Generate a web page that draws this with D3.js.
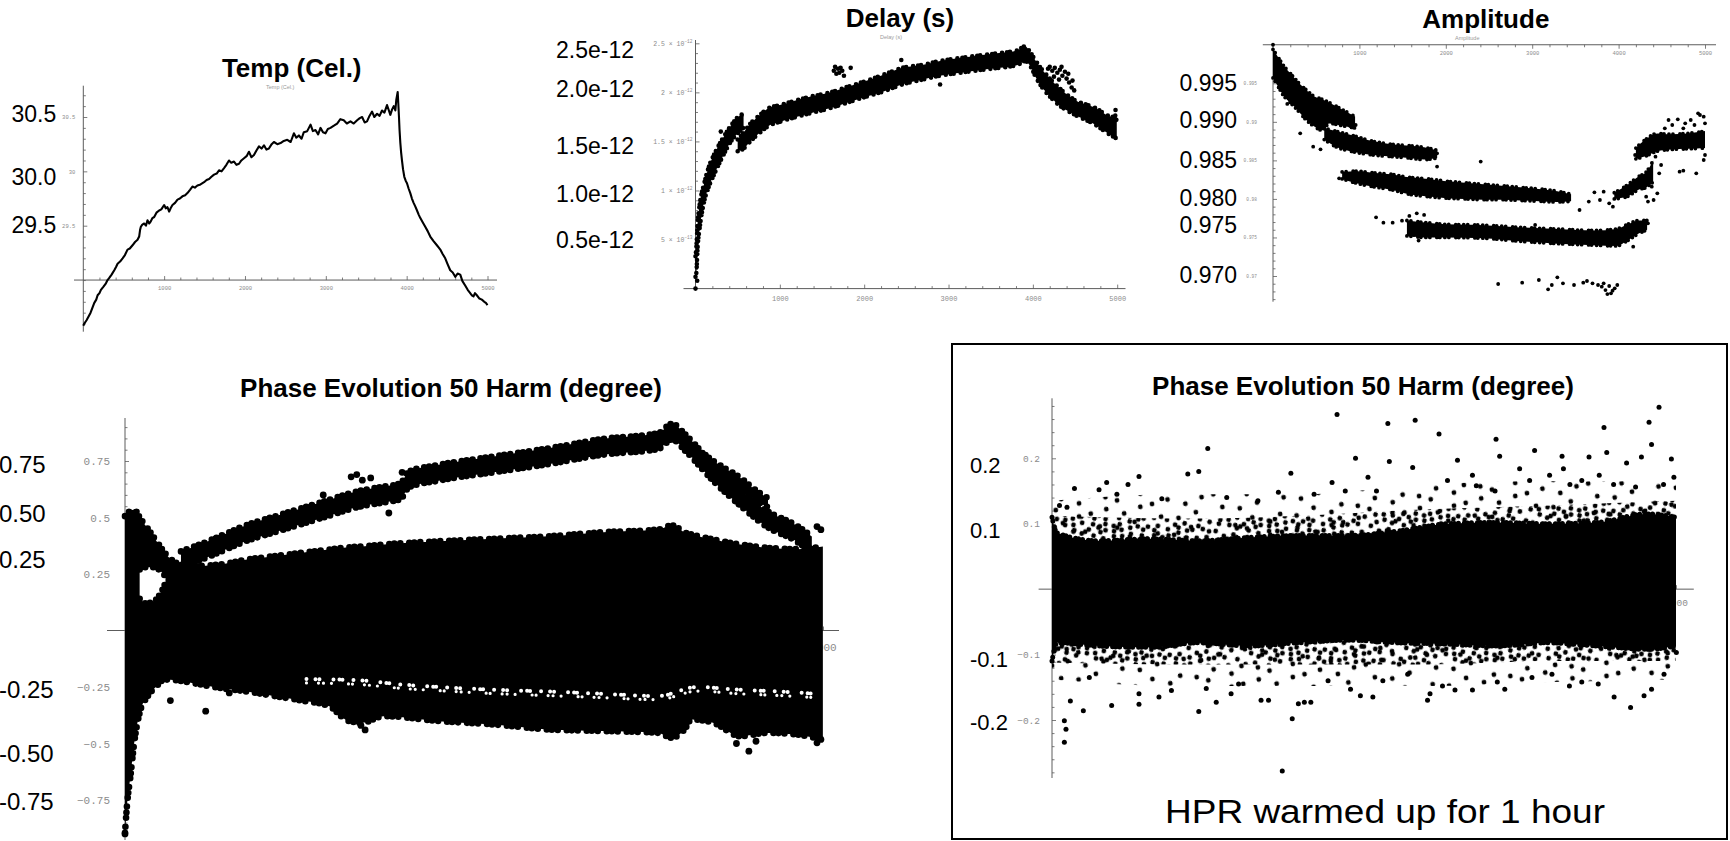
<!DOCTYPE html>
<html>
<head>
<meta charset="utf-8">
<script src="https://cdn.jsdelivr.net/npm/d3@7/dist/d3.min.js"></script>
<style>
html,body{margin:0;padding:0;background:#fff;}
svg{display:block;}
</style>
</head>
<body>
<svg id="chart" width="1730" height="841"></svg>
<script>
// ======================= DATA =======================
// common x ticks (sample index)
const xMajorTicks = [1000, 2000, 3000, 4000, 5000];

// --- Temp (Cel.) : [sample, °C]
const tempSeries = [[0,28.58],[12,28.60],[40,28.63],[62,28.66],[90,28.70],[110,28.74],[136,28.79],[160,28.82],[177,28.86],[200,28.88],[218,28.91],[250,28.94],[280,28.97],[300,29.00],[321,29.02],[350,29.05],[383,29.09],[405,29.12],[424,29.15],[455,29.17],[486,29.20],[515,29.23],[547,29.28],[575,29.29],[609,29.32],[640,29.35],[671,29.37],[691,29.40],[702,29.46],[712,29.49],[730,29.51],[753,29.52],[775,29.50],[794,29.55],[815,29.52],[835,29.54],[855,29.57],[877,29.58],[905,29.62],[938,29.64],[965,29.65],[1000,29.69],[1020,29.66],[1041,29.67],[1062,29.63],[1080,29.66],[1103,29.69],[1135,29.71],[1165,29.74],[1195,29.75],[1226,29.77],[1260,29.78],[1288,29.80],[1320,29.83],[1350,29.86],[1380,29.85],[1412,29.87],[1450,29.88],[1494,29.90],[1525,29.92],[1556,29.93],[1585,29.95],[1617,29.97],[1650,29.98],[1679,30.01],[1710,30.00],[1741,30.03],[1770,30.06],[1802,30.10],[1830,30.08],[1864,30.09],[1895,30.06],[1926,30.07],[1955,30.10],[1988,30.12],[2020,30.14],[2049,30.18],[2080,30.13],[2111,30.15],[2140,30.19],[2173,30.23],[2205,30.21],[2235,30.24],[2265,30.20],[2296,30.21],[2330,30.25],[2358,30.27],[2400,30.25],[2440,30.26],[2480,30.28],[2523,30.29],[2565,30.27],[2605,30.35],[2635,30.31],[2667,30.33],[2700,30.30],[2728,30.36],[2770,30.37],[2811,30.43],[2840,30.37],[2872,30.38],[2905,30.34],[2934,30.40],[2965,30.36],[2996,30.35],[3025,30.39],[3058,30.40],[3100,30.42],[3140,30.44],[3180,30.48],[3222,30.47],[3260,30.44],[3305,30.46],[3345,30.44],[3387,30.47],[3420,30.49],[3449,30.50],[3480,30.45],[3510,30.46],[3540,30.51],[3572,30.55],[3600,30.50],[3634,30.53],[3665,30.51],[3695,30.56],[3725,30.54],[3757,30.61],[3780,30.56],[3798,30.52],[3820,30.57],[3840,30.60],[3860,30.56],[3872,30.66],[3889,30.73],[3897,30.62],[3905,30.50],[3912,30.38],[3922,30.26],[3932,30.17],[3942,30.10],[3955,30.02],[3971,29.95],[3990,29.91],[4004,29.89],[4025,29.84],[4045,29.80],[4065,29.75],[4086,29.71],[4105,29.68],[4128,29.64],[4150,29.60],[4169,29.57],[4200,29.53],[4230,29.49],[4260,29.45],[4292,29.40],[4330,29.36],[4374,29.32],[4395,29.30],[4416,29.28],[4445,29.24],[4477,29.20],[4510,29.14],[4539,29.09],[4570,29.07],[4601,29.03],[4630,29.06],[4663,29.05],[4690,28.99],[4724,28.95],[4755,28.91],[4786,28.88],[4805,28.86],[4827,28.85],[4845,28.88],[4868,28.86],[4900,28.83],[4930,28.82],[4960,28.80],[4980,28.79],[5000,28.77]];

// --- Delay (s), values in ps (1e-12 s): bands [sample, low, high], points [sample, value]
const delayBandEarly = [[0,0.12,0.33],[10,0.16,0.42],[25,0.42,0.66],[50,0.62,0.86],[100,0.88,1.06],[150,1.02,1.22],[240,1.20,1.40],[330,1.36,1.54],[420,1.50,1.66],[520,1.60,1.76],[570,1.64,1.78]];
const delayBandMain = [[500,1.40,1.52],[560,1.42,1.58],[650,1.50,1.68],[750,1.58,1.76],[870,1.66,1.84],[1000,1.70,1.87],[1330,1.78,1.95],[1600,1.84,2.00],[1780,1.89,2.05],[2000,1.95,2.11],[2230,2.01,2.18],[2450,2.08,2.25],[2690,2.13,2.28],[2900,2.17,2.32],[3140,2.20,2.35],[3400,2.23,2.38],[3600,2.25,2.40],[3820,2.28,2.43],[3910,2.32,2.47],[3960,2.28,2.42],[4050,2.13,2.30],[4270,1.90,2.08],[4500,1.77,1.92],[4720,1.68,1.85],[4950,1.55,1.75],[4995,1.53,1.78]];
const delayPoints = [[0,0.0],[20,0.08],[1640,2.22],[1655,2.26],[1670,2.19],[1690,2.24],[1705,2.20],[1720,2.25],[1740,2.22],[1760,2.17],[1840,2.25],[2440,2.33],[2900,2.08],[4180,2.24],[4200,2.26],[4230,2.22],[4260,2.25],[4290,2.20],[4320,2.23],[4350,2.17],[4380,2.21],[4400,2.14],[4430,2.10],[4460,2.05],[4490,2.02],[4310,2.13],[4250,2.16],[4340,2.26],[4420,2.19],[4470,2.12],[4980,1.82],[4990,1.72],[300,1.60],[560,1.45]];

// --- Amplitude: bands [sample, low, high], points [sample, value]
const ampBandTop = [[0,0.9957,0.9994],[58,0.9946,0.9984],[122,0.9934,0.9973],[208,0.9924,0.9962],[293,0.9914,0.9951],[379,0.9903,0.9942],[465,0.9895,0.9934],[572,0.9889,0.9929],[650,0.9898,0.9925],[800,0.9895,0.9916],[950,0.9892,0.9907]];
const ampBandUpper = [[593,0.9877,0.9892],[722,0.9868,0.9888],[936,0.9861,0.9882],[1150,0.9857,0.9875],[1364,0.9855,0.9871],[1578,0.9853,0.9869],[1749,0.9851,0.9867],[1900,0.9853,0.9863]];
const ampBandMid = [[800,0.9826,0.9835],[979,0.9820,0.9836],[1150,0.9816,0.9834],[1364,0.9812,0.9832],[1578,0.9806,0.9828],[1792,0.9803,0.9826],[2007,0.9801,0.9823],[2221,0.9800,0.9821],[2435,0.9799,0.9819],[2649,0.9799,0.9817],[2863,0.9798,0.9815],[3077,0.9797,0.9813],[3291,0.9796,0.9810],[3450,0.9797,0.9806]];
const ampBandRise = [[3950,0.9800,0.9808],[4100,0.9803,0.9818],[4230,0.9812,0.9829],[4320,0.9815,0.9835],[4400,0.9822,0.9850]];
const ampBandEnd = [[4200,0.9852,0.9866],[4300,0.9855,0.9876],[4450,0.9862,0.9885],[4600,0.9864,0.9884],[4800,0.9865,0.9885],[5000,0.9866,0.9888]];
const ampBandLow = [[1550,0.9752,0.9772],[1792,0.9750,0.9769],[2007,0.9750,0.9767],[2435,0.9749,0.9766],[2863,0.9745,0.9763],[3291,0.9742,0.9761],[3720,0.9740,0.9759],[3976,0.9739,0.9761],[4105,0.9746,0.9767],[4233,0.9755,0.9772],[4330,0.9760,0.9772]];
const ampPoints = [[0,1.0],[1193,0.97761],[1278,0.97692],[1385,0.97692],[1493,0.97718],[1578,0.97779],[1664,0.97813],[1749,0.97792],[1630,0.97532],[1685,0.97459],[1899,0.97597],[2691,0.97597],[3034,0.97662],[765,0.98267],[1899,0.98592],[1899,0.98419],[1860,0.98570],[2404,0.98484],[315,0.98851],[465,0.98678],[550,0.98644],[165,0.99232],[893,0.98946],[957,0.98959],[3548,0.97856],[3655,0.97965],[3720,0.98086],[3784,0.97986],[3891,0.97943],[3934,0.97900],[3827,0.98094],[4169,0.97381],[4340,0.97683],[4578,0.99024],[4621,0.98959],[4685,0.99033],[4771,0.98981],[4835,0.99024],[4878,0.98959],[4942,0.99089],[4985,0.99067],[5000,0.98981],[4920,0.99111],[4749,0.98916],[4535,0.98916],[4706,0.98354],[4749,0.98367],[4899,0.98332],[4985,0.98505],[5000,0.98570],[4319,0.98029],[4340,0.97965],[4405,0.97986],[4448,0.98073],[4384,0.98159],[4470,0.98332],[4492,0.98440],[4427,0.98548],[4298,0.98613],[4234,0.98548],[4191,0.98570],[2606,0.96896],[2884,0.96913],[3077,0.96948],[3184,0.96827],[3227,0.96883],[3291,0.96983],[3356,0.96905],[3484,0.96883],[3591,0.96913],[3634,0.96935],[3698,0.96905],[3762,0.96883],[3805,0.96862],[3848,0.96818],[3891,0.96870],[3912,0.96775],[3955,0.96840],[3985,0.96883],[3870,0.96766],[3827,0.96905],[3930,0.96810]];

// --- Phase Evolution 50 Harm (degree), warm-up run
const phaseCore = [[0,-0.895,0.506],[16,-0.762,0.52],[39,-0.645,0.528],[66,-0.497,0.535],[105,-0.364,0.50],[164,-0.29,0.45],[220,-0.25,0.40],[284,-0.217,0.344],[365,-0.22,0.30],[480,-0.232,0.285],[676,-0.254,0.292],[873,-0.27,0.314],[1069,-0.29,0.329],[1266,-0.31,0.344],[1462,-0.335,0.358],[1600,-0.40,0.368],[1698,-0.408,0.372],[1856,-0.379,0.381],[2248,-0.401,0.395],[2641,-0.416,0.406],[3034,-0.438,0.417],[3427,-0.445,0.435],[3820,-0.453,0.447],[3918,-0.475,0.465],[4017,-0.43,0.432],[4056,-0.394,0.425],[4212,-0.408,0.403],[4409,-0.468,0.381],[4606,-0.453,0.366],[4803,-0.46,0.36],[4999,-0.482,0.372]];
const phaseHole = [[105,0.14,0.27],[150,0.12,0.28],[210,0.13,0.28],[260,0.17,0.26],[290,0.21,0.24]];
const phaseGap = [[1300,-0.215,-0.232],[1659,-0.22,-0.238],[2000,-0.24,-0.257],[2248,-0.25,-0.266],[2641,-0.262,-0.279],[3034,-0.27,-0.288],[3420,-0.28,-0.297],[3820,-0.29,-0.306],[4100,-0.25,-0.268],[4400,-0.262,-0.28],[4700,-0.27,-0.288],[4950,-0.28,-0.297]];
const phaseArc = [[401,0.28,0.35],[559,0.316,0.386],[676,0.346,0.416],[873,0.397,0.467],[1069,0.434,0.504],[1266,0.471,0.541],[1462,0.508,0.578],[1659,0.545,0.615],[1856,0.567,0.637],[1973,0.581,0.651],[2032,0.633,0.703],[2248,0.663,0.733],[2641,0.700,0.770],[3034,0.736,0.806],[3427,0.778,0.848],[3820,0.803,0.873],[3918,0.845,0.915],[4017,0.793,0.865],[4212,0.663,0.733],[4409,0.552,0.622],[4606,0.456,0.526],[4803,0.397,0.467],[4920,0.346,0.416]];
const phaseArc2 = [[4100,0.755,0.80],[4252,0.69,0.735],[4409,0.63,0.675],[4520,0.575,0.62],[4606,0.545,0.585]];
const phasePoints = [[0,-0.90],[578,-0.357],[747,-0.276],[325,-0.31],[4469,-0.534],[4957,-0.497],[4985,-0.482],[4930,-0.47],[4985,0.446],[4957,0.46],[4158,0.776],[1620,0.68],[1660,0.69],[1700,0.665],[1760,0.675],[1985,0.70],[1890,0.52],[1420,0.60],[4380,-0.50],[4520,-0.49],[1690,-0.42],[1720,-0.44]];

// --- Phase Evolution 50 Harm (degree), HPR warmed up for 1 hour
const hprCore = [[0,-0.11,0.11],[40,-0.082,0.086],[379,-0.087,0.074],[778,-0.089,0.077],[1176,-0.082,0.074],[1574,-0.087,0.079],[1974,-0.082,0.082],[2372,-0.078,0.082],[2771,-0.082,0.089],[3169,-0.084,0.10],[3568,-0.087,0.102],[3966,-0.082,0.10],[4365,-0.087,0.102],[4764,-0.092,0.115],[5000,-0.087,0.11]];
const hprHaloInner = [[0,-0.112,0.112],[1000,-0.115,0.108],[2000,-0.115,0.112],[3000,-0.115,0.122],[4000,-0.11,0.128],[5000,-0.11,0.135]];
const hprHaloOuter = [[0,-0.138,0.135],[1000,-0.148,0.145],[2000,-0.148,0.145],[3000,-0.148,0.16],[4000,-0.142,0.165],[5000,-0.138,0.165]];
const hprPoints = [[2284,0.267],[2691,0.253],[2910,0.258],[4864,0.278],[4784,0.255],[4423,0.247],[3101,0.237],[3558,0.229],[4804,0.221],[1248,0.215],[2432,0.200],[3249,0.197],[3587,0.203],[4087,0.203],[4303,0.202],[4723,0.202],[4963,0.199],[2703,0.195],[4604,0.193],[4098,0.184],[2890,0.186],[3867,0.212],[4445,0.209],[1176,0.180],[1088,0.176],[1914,0.177],[697,0.172],[2244,0.163],[2532,0.171],[3369,0.174],[3747,0.184],[3987,0.174],[4385,0.174],[4983,0.171],[438,0.163],[609,0.160],[377,0.152],[180,0.154],[1814,0.148],[3169,0.166],[3827,0.166],[4245,0.166],[4676,0.156],[60,0.128],[120,0.125],[520,0.145],[880,0.138],[1400,0.14],[1650,0.135],[2100,0.145],[2350,0.15],[2600,0.15],[3400,0.158],[3550,0.15],[4150,0.16],[4500,0.16],[4900,0.16],
[1845,-0.278],[99,-0.234],[112,-0.214],[99,-0.201],[4636,-0.181],[1176,-0.187],[1925,-0.198],[147,-0.171],[251,-0.186],[697,-0.176],[478,-0.178],[1236,-0.152],[1316,-0.173],[1435,-0.160],[1675,-0.170],[1735,-0.170],[1974,-0.175],[2022,-0.173],[2074,-0.173],[2392,-0.153],[2471,-0.163],[2571,-0.165],[3009,-0.170],[3029,-0.160],[3129,-0.148],[3229,-0.154],[3369,-0.154],[3568,-0.142],[3628,-0.153],[4146,-0.148],[4245,-0.142],[4377,-0.145],[4504,-0.165],[4744,-0.163],[4804,-0.153],[4904,-0.130],[5003,-0.097],[299,-0.135],[697,-0.160],[857,-0.165],[957,-0.155],[1495,-0.145],[2212,-0.140],[2651,-0.140],[2850,-0.130],[3846,-0.135],[4006,-0.130]];

// --- texts
const titles = ["Temp (Cel.)", "Delay (s)", "Amplitude", "Phase Evolution 50 Harm (degree)", "Phase Evolution 50 Harm (degree)"];
const tempBigLabels = ["30.5", "30.0", "29.5"];
const delayBigLabels = ["2.5e-12", "2.0e-12", "1.5e-12", "1.0e-12", "0.5e-12"];
const ampBigLabels = ["0.995", "0.990", "0.985", "0.980", "0.975", "0.970"];
const phaseBigLabels = ["0.75", "0.50", "0.25", "-0.25", "-0.50", "-0.75"];
const hprBigLabels = ["0.2", "0.1", "-0.1", "-0.2"];
const noteText = "HPR warmed up for 1 hour";

// tick values
const tempYTicks = [29.5, 30, 30.5];
const delayYTicks = [0.5, 1, 1.5, 2, 2.5];
const ampYTicks = [0.97, 0.975, 0.98, 0.985, 0.99, 0.995];
const phaseYTicks = [-0.75, -0.5, -0.25, 0.25, 0.5, 0.75];
const hprYTicks = [-0.2, -0.1, 0.1, 0.2];

// ======================= LAYOUT =======================
const SANS = '"Liberation Sans", Arial, Helvetica, sans-serif';
const MONO = '"Liberation Mono", "Courier New", monospace';
const svg = d3.select('#chart');

function numFmt(d) { return String(+(+d).toFixed(4)).replace('-', '\u2212'); }
function minorRange(a, b, step, majors) {
  const out = [];
  const n = Math.round((b - a) / step);
  for (let i = 0; i <= n; i++) {
    const v = +(a + i * step).toFixed(5);
    if (!majors.some(m => Math.abs(m - v) < step / 4)) out.push(v);
  }
  return out;
}
const xMinorTicks = minorRange(0, 5000, 200, [0].concat(xMajorTicks));

function mAxes(g, x, y, o) {
  const col = '#5c5c5c';
  const ax = g.append('g');
  const yPix = y(o.xAt), xPix = x(o.yAt);
  ax.append('line').attr('x1', o.xLine[0]).attr('x2', o.xLine[1]).attr('y1', yPix).attr('y2', yPix).attr('stroke', col).attr('stroke-width', 1);
  ax.append('line').attr('x1', xPix).attr('x2', xPix).attr('y1', o.yLine[0]).attr('y2', o.yLine[1]).attr('stroke', col).attr('stroke-width', 1);
  const dir = o.xDown ? 1 : -1;
  const gx = ax.append('g').attr('transform', `translate(0,${yPix})`).attr('color', col)
    .call(d3.axisBottom(x).tickValues(xMajorTicks).tickSize(dir * 4).tickPadding(o.xPad).tickFormat(d3.format('d')));
  ax.append('g').attr('transform', `translate(0,${yPix})`).attr('color', col)
    .call(d3.axisBottom(x).tickValues(xMinorTicks).tickSize(dir * 2.5).tickFormat(() => ''));
  const gy = ax.append('g').attr('transform', `translate(${xPix},0)`).attr('color', col)
    .call(d3.axisLeft(y).tickValues(o.yMaj).tickSize(-4).tickPadding(o.yPad).tickFormat(numFmt));
  ax.append('g').attr('transform', `translate(${xPix},0)`).attr('color', col)
    .call(d3.axisLeft(y).tickValues(o.yMin).tickSize(-2.5).tickFormat(() => ''));
  ax.selectAll('.domain').remove();
  ax.selectAll('.tick line').attr('stroke-width', 0.8);
  gx.selectAll('text').attr('font-family', MONO).attr('font-size', o.xFont).attr('fill', '#8c8c8c');
  gy.selectAll('text').attr('font-family', MONO).attr('font-size', o.yFont).attr('fill', '#8c8c8c');
  return { gx, gy };
}

function edgeBeads(g, x, y, data, k, r, dash, color) {
  const line = d3.line().x(d => x(d[0])).y(d => y(d[k])).curve(d3.curveMonotoneX);
  g.append('path').datum(data).attr('d', line).attr('fill', 'none').attr('stroke', color || '#000')
    .attr('stroke-width', r * 2).attr('stroke-linecap', 'round').attr('stroke-dasharray', dash);
}
function band(g, x, y, data, r, dash, fill) {
  const area = d3.area().x(d => x(d[0])).y0(d => y(d[1])).y1(d => y(d[2])).curve(d3.curveMonotoneX);
  g.append('path').datum(data).attr('d', area).attr('fill', fill || '#000');
  if (r) { edgeBeads(g, x, y, data, 1, r, dash); edgeBeads(g, x, y, data, 2, r, dash); }
}
function dots(g, x, y, data, r) {
  g.append('g').selectAll('circle').data(data).join('circle')
    .attr('cx', d => x(d[0])).attr('cy', d => y(d[1])).attr('r', r).attr('fill', '#000');
}
function bigLabels(g, labels, xPos, baselines, size) {
  g.append('g').selectAll('text').data(labels).join('text')
    .attr('x', xPos).attr('y', (d, i) => baselines[i]).text(d => d)
    .attr('font-family', SANS).attr('font-size', size).attr('fill', '#000');
}
function title(g, text, cx, base, tiny) {
  if (tiny) {
    g.append('text').attr('x', tiny[0]).attr('y', tiny[1]).text(text)
      .attr('font-family', SANS).attr('font-size', 5.5).attr('fill', '#9a9a9a');
  }
  g.append('text').attr('x', cx).attr('y', base).attr('text-anchor', 'middle').text(text)
    .attr('font-family', SANS).attr('font-weight', 'bold').attr('font-size', 26).attr('fill', '#000');
}

// dot textures for the scattered halo of the last panel
const defs = svg.append('defs');
function texture(id, w, h, r, pts, rot) {
  const p = defs.append('pattern').attr('id', id).attr('patternUnits', 'userSpaceOnUse')
    .attr('width', w).attr('height', h).attr('patternTransform', `rotate(${rot})`);
  pts.forEach(c => p.append('circle').attr('cx', c[0]).attr('cy', c[1]).attr('r', r).attr('fill', '#000'));
}
texture('haloDense', 50, 40, 2.4, [[4,4],[13,7],[22,3.5],[31,8],[41,5],[46.5,12],[7,13],[18,14],[27,17],[37,15],[45,22],[3.5,22],[12,24],[22,26],[33,25],[42,31],[6,32],[16,35],[27,34],[36,36],[9,19],[30,31],[20,20],[17,9],[36,3],[26,10],[44,17],[5,27],[39,27],[14,30],[24,36.5],[33,19],[46.5,28],[46,36.5]], 13);
texture('haloSparse', 62, 48, 2.4, [[5,6],[21,4],[38,11],[55,7],[12,20],[29,24],[47,21],[6,36],[22,40],[40,35],[57,42],[33,45]], -9);

// ---------------- Panel 1 : Temp ----------------
{
  const g = svg.append('g');
  const x = d3.scaleLinear().domain([0, 5000]).range([83.3, 487.5]);
  const y = d3.scaleLinear().domain([29.5, 30.5]).range([225.7, 117]);
  mAxes(g, x, y, { xAt: 29.0, yAt: 0, xLine: [74, 497], yLine: [85.7, 331.7],
    yMaj: tempYTicks, yMin: minorRange(28.6, 30.7, 0.1, tempYTicks), xPad: 6.5, yPad: 8, xFont: 5.5, yFont: 5.5 });
  g.append('path').datum(tempSeries)
    .attr('d', d3.line().x(d => x(d[0])).y(d => y(d[1])))
    .attr('fill', 'none').attr('stroke', '#000').attr('stroke-width', 2.1).attr('stroke-linejoin', 'round');
  bigLabels(g, tempBigLabels, 11.5, [122.3, 185, 233.3], 23);
  title(g, titles[0], 291.7, 76.8, [266, 88.5]);
}

// ---------------- Panel 2 : Delay ----------------
{
  const g = svg.append('g');
  const x = d3.scaleLinear().domain([0, 5000]).range([695.5, 1117.2]);
  const y = d3.scaleLinear().domain([0, 2.5]).range([288.6, 43.3]);
  const { gy } = mAxes(g, x, y, { xAt: 0, yAt: 0, xLine: [683.5, 1125.5], yLine: [40, 289],
    yMaj: delayYTicks, yMin: minorRange(0.1, 2.5, 0.1, delayYTicks), xPad: 7, yPad: 3, xFont: 7, yFont: 6.5 });
  gy.selectAll('.tick text').each(function (d) {
    const t = d3.select(this);
    t.text(null);
    const m = d < 1 ? +(d * 10).toFixed(2) : d;
    const e = d < 1 ? 13 : 12;
    t.append('tspan').text(`${m} \u00d7 10`);
    t.append('tspan').attr('dy', -3).attr('font-size', 4.5).text(`\u2212${e}`);
  });
  const dg = g.append('g');
  band(dg, x, y, delayBandEarly, 2.3, '0 4 0 6 0 3');
  band(dg, x, y, delayBandMain, 2.3, '0 5 0 3 0 7');
  dots(dg, x, y, delayPoints, 2.3);
  bigLabels(g, delayBigLabels, 556, [58.3, 97.3, 154, 201.7, 248.3], 23);
  title(g, titles[1], 900, 27.3, [880, 39]);
}

// ---------------- Panel 3 : Amplitude ----------------
{
  const g = svg.append('g');
  const x = d3.scaleLinear().domain([0, 5000]).range([1273, 1705]);
  const y = d3.scaleLinear().domain([0.97, 0.995]).range([276, 83.3]);
  mAxes(g, x, y, { xAt: 1.0, yAt: 0, xDown: true, xLine: [1262.8, 1716], yLine: [44.8, 301.7],
    yMaj: ampYTicks, yMin: minorRange(0.967, 0.999, 0.001, ampYTicks), xPad: 2.5, yPad: 16, xFont: 5.5, yFont: 4.5 });
  const dg = g.append('g');
  [ampBandTop, ampBandUpper, ampBandMid, ampBandRise, ampBandEnd, ampBandLow]
    .forEach(b => band(dg, x, y, b, 1.9, '0 4 0 7 0 3 0 5'));
  dots(dg, x, y, ampPoints, 1.9);
  bigLabels(g, ampBigLabels, 1179.6, [90.7, 128.3, 168.3, 205.7, 233.3, 283.3], 23);
  title(g, titles[2], 1485.8, 28.3, [1455, 40]);
}

// ---------------- Panel 4 : Phase (warm-up) ----------------
{
  const g = svg.append('g');
  const x = d3.scaleLinear().domain([0, 5000]).range([125, 823]);
  const y = d3.scaleLinear().domain([-0.75, 0.75]).range([800, 461]);
  mAxes(g, x, y, { xAt: 0, yAt: 0, xLine: [107, 839], yLine: [418, 840],
    yMaj: phaseYTicks, yMin: minorRange(-0.9, 0.9, 0.05, phaseYTicks.concat([0])), xPad: 12.5, yPad: 15, xFont: 11, yFont: 11 });
  const dg = g.append('g');
  band(dg, x, y, phaseCore, 3.3, '0 6 0 9 0 5');
  dg.append('path').datum(phaseHole)
    .attr('d', d3.area().x(d => x(d[0])).y0(d => y(d[1])).y1(d => y(d[2])).curve(d3.curveMonotoneX))
    .attr('fill', '#fff');
  edgeBeads(dg, x, y, phaseHole, 1, 3.3, '0 7 0 5');
  edgeBeads(dg, x, y, phaseHole, 2, 3.3, '0 6 0 8');
  // scattered white specks between the main cloud and the lower branch
  edgeBeads(dg, x, y, phaseGap, 1, 2.0, '0 9 0 4 0 14 0 6 0 3 0 11', '#fff');
  edgeBeads(dg, x, y, phaseGap, 2, 1.6, '0 12 0 5 0 8 0 17 0 4', '#fff');
  band(dg, x, y, phaseArc, 3.3, '0 6 0 8 0 5');
  band(dg, x, y, phaseArc2, 3.3, '0 6 0 8');
  dots(dg, x, y, phasePoints, 3.4);
  bigLabels(g, phaseBigLabels, -1, [473.3, 521.7, 568.3, 698.3, 761.7, 810], 24);
  title(g, titles[3], 451, 396.7, null);
}

// ---------------- Panel 5 : Phase (HPR warmed up) ----------------
{
  const g = svg.append('g');
  g.append('rect').attr('x', 952).attr('y', 344).attr('width', 775).attr('height', 495)
    .attr('fill', 'none').attr('stroke', '#000').attr('stroke-width', 2);
  const x = d3.scaleLinear().domain([0, 5000]).range([1052, 1676]);
  const y = d3.scaleLinear().domain([-0.2, 0.2]).range([720, 458.3]);
  mAxes(g, x, y, { xAt: 0, yAt: 0, xLine: [1038.6, 1693.8], yLine: [398.3, 778],
    yMaj: hprYTicks, yMin: minorRange(-0.28, 0.28, 0.02, hprYTicks.concat([0])), xPad: 10.4, yPad: 12, xFont: 9.5, yFont: 9.5 });
  const dg = g.append('g');
  const ar = d3.area().x(d => x(d[0])).y0(d => y(d[1])).y1(d => y(d[2])).curve(d3.curveMonotoneX);
  dg.append('path').datum(hprHaloOuter).attr('d', ar).attr('fill', 'url(#haloSparse)');
  dg.append('path').datum(hprHaloInner).attr('d', ar).attr('fill', 'url(#haloDense)');
  band(dg, x, y, hprCore, 2.5, '0 4 0 6 0 3');
  dots(dg, x, y, hprPoints, 2.5);
  bigLabels(g, hprBigLabels, 970, [473.3, 537.7, 666.7, 730], 22);
  title(g, titles[4], 1363, 395, null);
  g.append('text').attr('x', 1385).attr('y', 823.3).attr('text-anchor', 'middle').text(noteText)
    .attr('font-family', SANS).attr('font-size', 34).attr('textLength', 440).attr('lengthAdjust', 'spacingAndGlyphs').attr('fill', '#000');
}
</script>
</body>
</html>
